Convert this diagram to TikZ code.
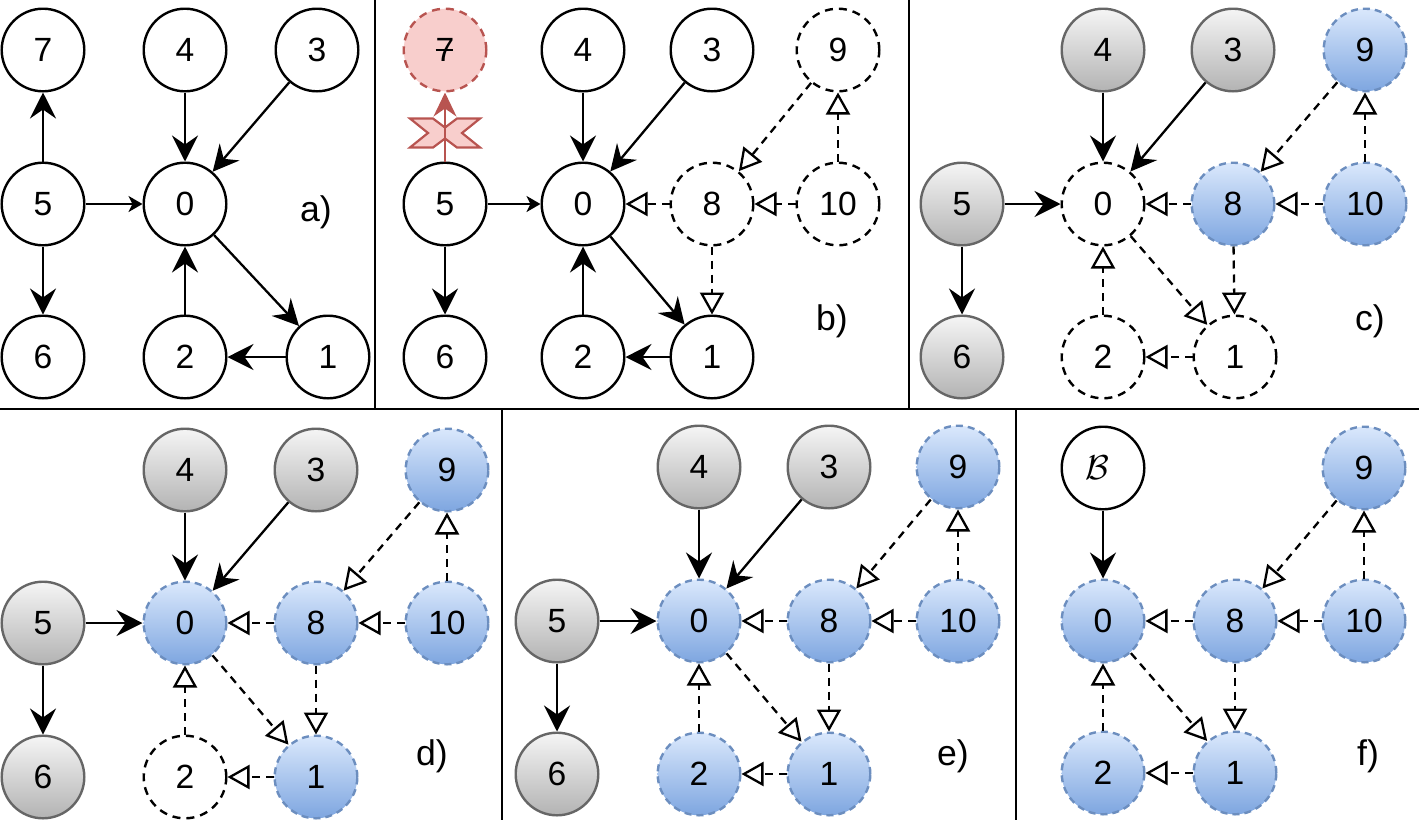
\documentclass[tikz,border=0pt]{standalone}
\usepackage{fontspec}
\setmainfont{Liberation Sans}
\usetikzlibrary{arrows.meta}
\definecolor{gstroke}{HTML}{666666}
\definecolor{gtop}{HTML}{F5F5F5}
\definecolor{gbot}{HTML}{B3B3B3}
\definecolor{bstroke}{HTML}{6C8EBF}
\definecolor{btop}{HTML}{DAE8FC}
\definecolor{bbot}{HTML}{7EA6E0}
\definecolor{rstroke}{HTML}{B85450}
\definecolor{rfill}{HTML}{F8CECC}
\newcommand\nodefnt{\fontsize{16.8}{18}\selectfont}
\newcommand\labfnt{\fontsize{17.8}{20}\selectfont}
\begin{document}
\begin{tikzpicture}[x=0.5pt,y=-0.5pt,
 nbase/.style={circle,minimum size=41.3pt,inner sep=0pt,line width=1.2pt,font=\nodefnt},
 wn/.style={nbase,draw=black,fill=white},
 dn/.style={nbase,draw=black,fill=white,dash pattern=on 4pt off 3pt},
 gn/.style={nbase,draw=gstroke,top color=gtop,bottom color=gbot},
 bn/.style={nbase,draw=bstroke,top color=btop,bottom color=bbot,dash pattern=on 3.5pt off 2.5pt},
 rn/.style={nbase,draw=rstroke,fill=rfill,dash pattern=on 4pt off 3pt},
 sol/.style={line width=1.15pt,-{Stealth[length=13pt,width=13pt,inset=4.5pt]}},
 sml/.style={line width=1.15pt,-{Stealth[length=7pt,width=8pt,inset=2pt]}},
 red/.style={line width=1.15pt,draw=rstroke,-{Stealth[length=12pt,width=11.5pt,inset=4pt,fill=rstroke]}},
 dsh/.style={line width=1.15pt,dash pattern=on 4pt off 3pt,-{Triangle[length=11pt,width=12pt,fill=white]}},
 lab/.style={anchor=base,font=\labfnt},
 sep/.style={line width=1.1pt}
]
\useasboundingbox (0,0) rectangle (1419,820);
% separators
\draw[sep] (0,409) -- (1419,409);
\draw[sep] (375,0) -- (375,409);
\draw[sep] (909,0) -- (909,409);
\draw[sep] (502,409) -- (502,820);
\draw[sep] (1016,409) -- (1016,820);

% ---------- panel a
\node[wn] (a7) at (43,50) {7};
\node[wn] (a4) at (185,50) {4};
\node[wn] (a3) at (317,50) {3};
\node[wn] (a5) at (43,204) {5};
\node[wn] (a0) at (185,204) {0};
\node[wn] (a6) at (43,357) {6};
\node[wn] (a2) at (185,357) {2};
\node[wn] (a1) at (328,357) {1};
\draw[sol] (a5) -- (a7);
\draw[sol] (a4) -- (a0);
\draw[sol] (a3) -- (a0);
\draw[sml] (a5) -- (a0);
\draw[sol] (a5) -- (a6);
\draw[sol] (a2) -- (a0);
\draw[sol] (a0) -- (a1);
\draw[sol] (a1) -- (a2);
\node[lab] (la) at (316,221) {a)};

% ---------- panel b
\node[rn] (b7) at (445,50) {\rlap{\rule[5.3pt]{8.8pt}{1pt}}7};
\node[wn] (b4) at (583,50) {4};
\node[wn] (b3) at (712,50) {3};
\node[dn] (b9) at (838,50) {9};
\node[wn] (b5) at (445,204) {5};
\node[wn] (b0) at (583,204) {0};
\node[dn] (b8) at (712,204) {8};
\node[dn] (b10) at (838,204) {10};
\node[wn] (b6) at (445,357) {6};
\node[wn] (b2) at (583,357) {2};
\node[wn] (b1) at (712,357) {1};
\filldraw[fill=rfill,draw=rstroke,line width=1.1pt]
 (410,118.5) -- (433,118.5) -- (445,127.5) -- (457,118.5) -- (480,118.5) --
 (462,133) -- (480,147.5) -- (457,147.5) -- (445,138.5) -- (433,147.5) --
 (410,147.5) -- (428,133) -- cycle;
\draw[red] (b5) -- (b7);
\draw[sol] (b4) -- (b0);
\draw[sol] (b3) -- (b0);
\draw[sml] (b5) -- (b0);
\draw[sol] (b5) -- (b6);
\draw[sol] (b2) -- (b0);
\draw[sol] (b0) -- (b1);
\draw[sol] (b1) -- (b2);
\draw[dsh] (b8) -- (b0);
\draw[dsh] (b10) -- (b8);
\draw[dsh] (b10) -- (b9);
\draw[dsh] (b9) -- (b8);
\draw[dsh] (b8) -- (b1);
\node[lab] (lb) at (832,330) {b)};

% ---------- panel c
\node[gn] (c4) at (1103,50) {4};
\node[gn] (c3) at (1233,50) {3};
\node[bn] (c9) at (1365,50) {9};
\node[gn] (c5) at (962,204) {5};
\node[dn] (c0) at (1103,204) {0};
\node[bn] (c8) at (1233,204) {8};
\node[bn] (c10) at (1365,204) {10};
\node[gn] (c6) at (962,357) {6};
\node[dn] (c2) at (1103,357) {2};
\node[dn] (c1) at (1235,357) {1};
\draw[sol] (c4) -- (c0);
\draw[sol] (c3) -- (c0);
\draw[sol] (c5) -- (c0);
\draw[sol] (c5) -- (c6);
\draw[dsh] (c8) -- (c0);
\draw[dsh] (c10) -- (c8);
\draw[dsh] (c10) -- (c9);
\draw[dsh] (c9) -- (c8);
\draw[dsh] (c8) -- (c1);
\draw[dsh] (c0) -- (c1);
\draw[dsh] (c2) -- (c0);
\draw[dsh] (c1) -- (c2);
\node[lab] (lc) at (1370,330) {c)};

% ---------- panel d
\node[gn] (d4) at (185,470) {4};
\node[gn] (d3) at (316,470) {3};
\node[bn] (d9) at (447,470) {9};
\node[gn] (d5) at (43,623) {5};
\node[bn] (d0) at (185,623) {0};
\node[bn] (d8) at (316,623) {8};
\node[bn] (d10) at (447,623) {10};
\node[gn] (d6) at (43,777) {6};
\node[dn] (d2) at (185,777) {2};
\node[bn] (d1) at (316,777) {1};
\draw[sol] (d4) -- (d0);
\draw[sol] (d3) -- (d0);
\draw[sol] (d5) -- (d0);
\draw[sol] (d5) -- (d6);
\draw[dsh] (d8) -- (d0);
\draw[dsh] (d10) -- (d8);
\draw[dsh] (d10) -- (d9);
\draw[dsh] (d9) -- (d8);
\draw[dsh] (d8) -- (d1);
\draw[dsh] (d0) -- (d1);
\draw[dsh] (d2) -- (d0);
\draw[dsh] (d1) -- (d2);
\node[lab] (ld) at (432,765) {d)};

% ---------- panel e
\node[gn] (e4) at (699,467) {4};
\node[gn] (e3) at (829,467) {3};
\node[bn] (e9) at (958,467) {9};
\node[gn] (e5) at (557,621) {5};
\node[bn] (e0) at (699,621) {0};
\node[bn] (e8) at (829,621) {8};
\node[bn] (e10) at (958,621) {10};
\node[gn] (e6) at (557,774) {6};
\node[bn] (e2) at (699,774) {2};
\node[bn] (e1) at (829,774) {1};
\draw[sol] (e4) -- (e0);
\draw[sol] (e3) -- (e0);
\draw[sol] (e5) -- (e0);
\draw[sol] (e5) -- (e6);
\draw[dsh] (e8) -- (e0);
\draw[dsh] (e10) -- (e8);
\draw[dsh] (e10) -- (e9);
\draw[dsh] (e9) -- (e8);
\draw[dsh] (e8) -- (e1);
\draw[dsh] (e0) -- (e1);
\draw[dsh] (e2) -- (e0);
\draw[dsh] (e1) -- (e2);
\node[lab] (le) at (953,765) {e)};

% ---------- panel f
\node[wn,font=\fontsize{18.5}{20}\selectfont] (fB) at (1103,468) {\raisebox{-4pt}{\hspace*{-6pt}$\mathcal{B}$}};
\node[bn] (f9) at (1364,468) {9};
\node[bn] (f0) at (1103,621) {0};
\node[bn] (f8) at (1235,621) {8};
\node[bn] (f10) at (1364,621) {10};
\node[bn] (f2) at (1103,773) {2};
\node[bn] (f1) at (1235,773) {1};
\draw[sol] (fB) -- (f0);
\draw[dsh] (f8) -- (f0);
\draw[dsh] (f10) -- (f8);
\draw[dsh] (f10) -- (f9);
\draw[dsh] (f9) -- (f8);
\draw[dsh] (f8) -- (f1);
\draw[dsh] (f0) -- (f1);
\draw[dsh] (f2) -- (f0);
\draw[dsh] (f1) -- (f2);
\node[lab] (lf) at (1368,765) {f)};
\end{tikzpicture}
\end{document}
